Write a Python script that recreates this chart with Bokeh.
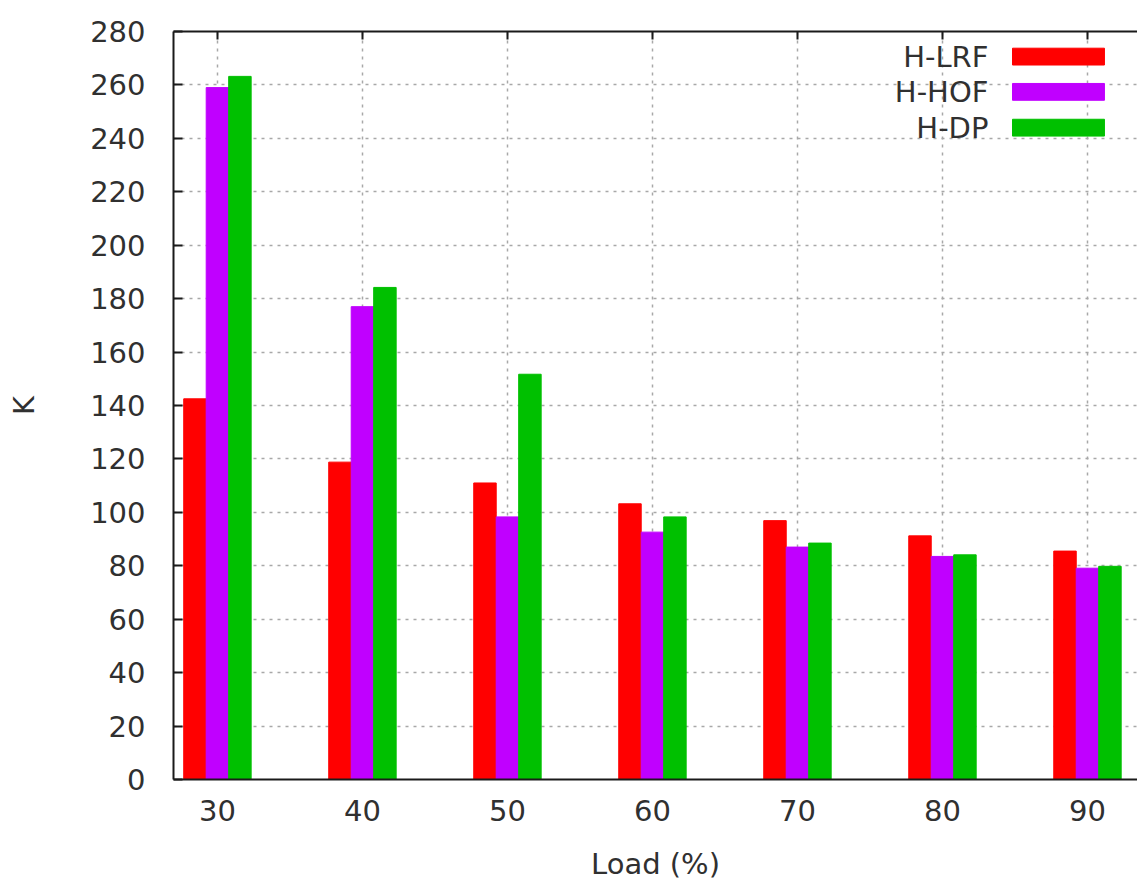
from bokeh.plotting import figure
from bokeh.models import (ColumnDataSource, Range1d, FixedTicker, LinearAxis,
                          Label, BoxAnnotation)
from bokeh.transform import dodge
from bokeh.embed import file_html
from bokeh.resources import INLINE

# ---- data ----
loads = [30, 40, 50, 60, 70, 80, 90]
h_lrf = [142.5, 118.8, 111.0, 103.2, 96.9, 91.2, 85.5]
h_hof = [259.0, 177.0, 98.3, 92.6, 87.0, 83.5, 79.1]
h_dp = [263.2, 184.2, 151.7, 98.3, 88.5, 84.1, 79.8]
series_names = ["H-LRF", "H-HOF", "H-DP"]
y_ticks = list(range(0, 281, 20))

colors = ["#ff0000", "#c000ff", "#00c000"]
FONT = "DejaVu Sans"
FS = "29px"
TXT = "#303030"

src = ColumnDataSource(dict(load=loads, lrf=h_lrf, hof=h_hof, dp=h_dp))

p = figure(width=1137, height=884, output_backend="svg", toolbar_location=None,
           x_range=Range1d(26.97, 93.45), y_range=Range1d(0, 280),
           min_border_left=173, min_border_top=31, min_border_bottom=105,
           min_border_right=0, x_axis_location="below")
p.background_fill_color = "white"
p.border_fill_color = "white"
p.outline_line_color = None

bw = 1.55
for col, off, c in zip(["lrf", "hof", "dp"], [-bw, 0.0, bw], colors):
    p.vbar(x=dodge("load", off, range=p.x_range), top=col, width=bw, bottom=0,
           source=src, fill_color=c, line_color=c, line_width=1)

# axes
for ax in (p.xaxis[0], p.yaxis[0]):
    ax.axis_line_color = "#1a1a1a"
    ax.axis_line_width = 2
    ax.major_tick_line_color = "#1a1a1a"
    ax.major_tick_line_width = 2
    ax.major_tick_out = 0
    ax.minor_tick_line_color = None
    ax.major_label_text_font = FONT
    ax.major_label_text_font_size = FS
    ax.major_label_text_color = TXT
    ax.axis_label_text_font = FONT
    ax.axis_label_text_font_size = FS
    ax.axis_label_text_color = TXT
    ax.axis_label_text_font_style = "normal"

p.xaxis[0].ticker = FixedTicker(ticks=loads)
p.xaxis[0].major_tick_in = 0
p.xaxis[0].major_label_standoff = 20
p.xaxis[0].axis_label = "Load (%)"
p.xaxis[0].axis_label_standoff = 23

p.yaxis[0].ticker = FixedTicker(ticks=y_ticks)
p.yaxis[0].major_tick_in = 9
p.yaxis[0].major_label_standoff = 28
p.yaxis[0].axis_label = "K"
p.yaxis[0].axis_label_standoff = 46

top_ax = LinearAxis(ticker=FixedTicker(ticks=loads))
top_ax.axis_line_color = "#1a1a1a"
top_ax.axis_line_width = 2
top_ax.major_tick_line_color = "#1a1a1a"
top_ax.major_tick_line_width = 2
top_ax.major_tick_out = 0
top_ax.major_tick_in = 8
top_ax.minor_tick_line_color = None
top_ax.major_label_text_font_size = "0px"
top_ax.major_label_text_color = None
top_ax.major_label_standoff = 0
p.add_layout(top_ax, "above")

# grid
for g, t in ((p.xgrid[0], loads), (p.ygrid[0], y_ticks)):
    g.ticker = FixedTicker(ticks=t)
    g.grid_line_color = "#a8a8a8"
    g.grid_line_width = 1.5
    g.grid_line_dash = "3 5"

# legend (text left of swatch, gnuplot style)
row_y = [270.6, 257.4, 244.0]
for name, c, yy in zip(series_names, colors, row_y):
    p.add_layout(Label(x=83.17, y=yy, text=name, text_align="right",
                       text_baseline="middle", text_font=FONT,
                       text_font_size=FS, text_color=TXT))
    p.add_layout(BoxAnnotation(left=84.83, right=91.17, bottom=yy - 3.15,
                               top=yy + 3.15, fill_color=c, fill_alpha=1.0,
                               line_color=c, line_alpha=1.0))

open("out.html", "w").write(file_html(p, INLINE))
